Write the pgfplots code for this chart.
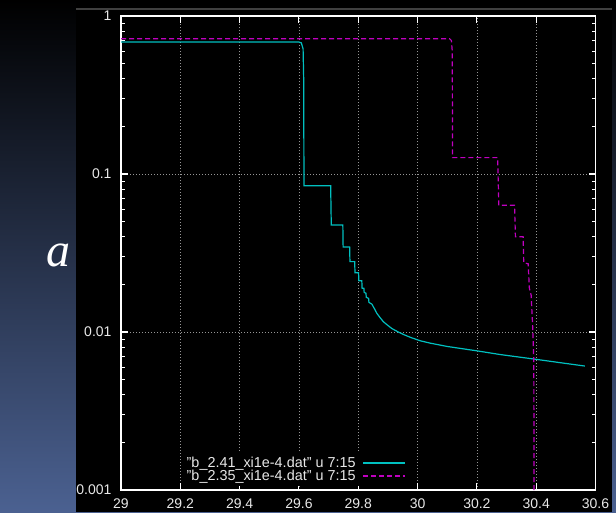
\documentclass[border=0pt]{standalone}
\usepackage{fontspec}
\setmainfont{Liberation Sans}
\newfontfamily\serifface{Liberation Serif}
\usepackage{pgfplots}
\pgfplotsset{compat=1.18}
\usetikzlibrary{shadings}

\definecolor{bgblue}{RGB}{75,97,145}
\definecolor{labelgray}{RGB}{232,232,232}
\definecolor{gridgray}{RGB}{150,150,150}
\definecolor{topline}{RGB}{64,64,64}
\definecolor{cyanline}{RGB}{0,192,192}
\definecolor{magline}{RGB}{192,0,192}

\begin{document}
\begin{tikzpicture}
\useasboundingbox (0,0) rectangle (616pt,512pt);
% slide background
\fill[top color=black, bottom color=bgblue] (0,0) rectangle (616pt,512pt);
\fill[black] (76pt,0) rectangle (612pt,512pt);
\draw[line width=2pt, topline] (76pt,503pt) -- (612pt,503pt);
\node[inner sep=0pt, text=white, font=\serifface\itshape\fontsize{48}{50}\selectfont]
  at (58pt,257pt) {a};

\begin{axis}[
  at={(121pt,22pt)}, anchor=south west,
  scale only axis, width=474.5pt, height=474pt,
  xmin=29, xmax=30.6,
  ymode=log, ymin=0.001, ymax=1,
  xtick={29,29.2,29.4,29.6,29.8,30,30.2,30.4,30.6},
  xticklabels={29,29.2,29.4,29.6,29.8,30,30.2,30.4,30.6},
  ytick={0.001,0.01,0.1,1},
  yticklabels={0.001,0.01,0.1,1},
  minor ytick={0.002,0.003,0.004,0.005,0.006,0.007,0.008,0.009,
               0.02,0.03,0.04,0.05,0.06,0.07,0.08,0.09,
               0.2,0.3,0.4,0.5,0.6,0.7,0.8,0.9},
  /pgf/number format/assume math mode=true,
  tick align=inside,
  major tick length=7pt, minor tick length=4pt,
  axis line style={white, line width=1.4pt},
  every tick/.style={white, line width=1.1pt},
  grid=major,
  major grid style={gridgray, line width=0.7pt, dash pattern=on 1pt off 2pt},
  minor grid style={draw=none},
  ticklabel style={font=\fontsize{14}{15}\selectfont, text=labelgray},
  xticklabel style={yshift=-5pt},
  yticklabel style={xshift=-6pt},
  legend plot pos=right,
  legend cell align=right,
  legend style={at={(0.605,0.008)}, anchor=south east, draw=none, fill=black,
    font=\fontsize{14.4}{15}\selectfont, inner sep=2pt, row sep=-3pt},
]
% run b = 2.41
\addplot[color=cyanline, line width=1.2pt,
  legend image code/.code={\path (0pt,0pt);
    \draw[cyanline, line width=1.3pt, solid] (5pt,0pt) -- (47pt,0pt);}]
 coordinates {
  (29.000,0.684) (29.600,0.684) (29.608,0.676) (29.614,0.62) (29.616,0.40)
  (29.617,0.0843) (29.707,0.0843) (29.709,0.0475) (29.748,0.0475)
  (29.749,0.0345) (29.771,0.0345) (29.772,0.0279) (29.788,0.0279)
  (29.789,0.0237) (29.801,0.0237) (29.802,0.0211) (29.812,0.0211)
  (29.813,0.0189) (29.819,0.0189) (29.820,0.0178) (29.826,0.0176)
  (29.827,0.0166) (29.835,0.0163) (29.836,0.0154) (29.846,0.0150)
  (29.855,0.0140) (29.863,0.0131) (29.874,0.0123) (29.885,0.0116)
  (29.900,0.0110) (29.914,0.0105) (29.935,0.0100) (29.955,0.00960)
  (29.976,0.00925) (30.009,0.00880) (30.043,0.00850) (30.100,0.00810)
  (30.200,0.00760) (30.279,0.00720) (30.391,0.00675) (30.480,0.00640)
  (30.564,0.00609)
};
\addlegendentry{\textcolor{labelgray}{"b\_2.41\_xi1e-4.dat" u 7:15}}
% run b = 2.35
\addplot[color=magline, line width=1.2pt, dash pattern=on 5pt off 3pt,
  legend image code/.code={\path (0pt,0pt);
    \draw[magline, line width=1.2pt, dash pattern=on 5pt off 3pt] (5pt,0pt) -- (47pt,0pt);}]
 coordinates {
  (29.000,0.718) (30.108,0.718) (30.114,0.70) (30.117,0.60) (30.118,0.127)
  (30.270,0.127) (30.274,0.0634) (30.327,0.0634) (30.330,0.0401)
  (30.356,0.0401) (30.358,0.0275) (30.373,0.0270) (30.377,0.0189)
  (30.383,0.0171) (30.388,0.0110) (30.392,0.0066) (30.393,0.0005)
};
\addlegendentry{\textcolor{labelgray}{"b\_2.35\_xi1e-4.dat" u 7:15}}
\end{axis}
\end{tikzpicture}
\end{document}
